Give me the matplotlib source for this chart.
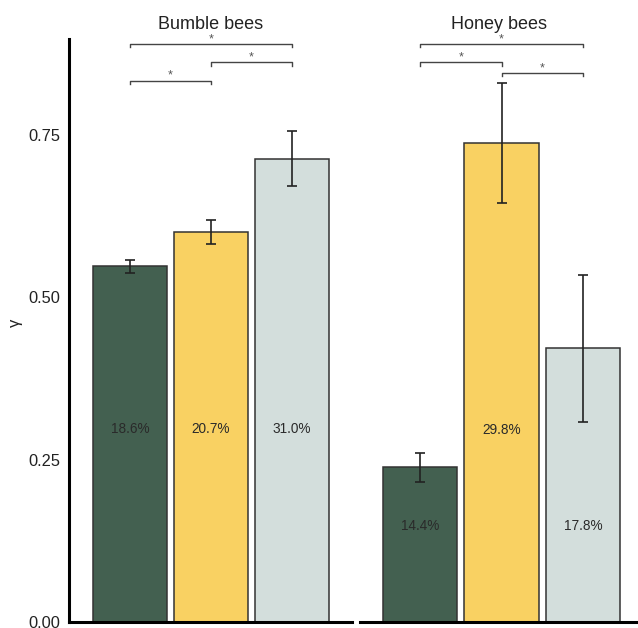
import matplotlib.pyplot as plt

plt.rcParams['font.family'] = ['Liberation Sans', 'DejaVu Sans']

groups = ['Bumble bees', 'Honey bees']
colors = ['#436050', '#F9D162', '#D3DEDC']

bumble_means = [0.547, 0.600, 0.713]
bumble_err = [0.0095, 0.018, 0.042]
bumble_pct = ['18.6%', '20.7%', '31.0%']
bumble_pct_y = [0.297, 0.297, 0.297]

honey_means = [0.238, 0.737, 0.421]
honey_err = [0.022, 0.093, 0.1135]
honey_pct = ['14.4%', '29.8%', '17.8%']
honey_pct_y = [0.148, 0.296, 0.148]

# (left bar, right bar, height) for each significance bracket
bumble_brackets = [(0, 2, 0.889), (1, 2, 0.861), (0, 1, 0.833)]
honey_brackets = [(0, 2, 0.889), (0, 1, 0.861), (1, 2, 0.845)]

ymax = 0.897
fig = plt.figure(figsize=(6.38, 6.28), dpi=100)
ax1 = fig.add_axes([69 / 638, 6 / 628, 283 / 638, 583 / 628])
ax2 = fig.add_axes([360 / 638, 6 / 628, 278 / 638, 583 / 628])


def draw_panel(ax, means, errs, pcts, pct_y, brackets, title, xlim):
    x = range(len(means))
    ax.bar(x, means, width=0.913, color=colors, edgecolor='#333333',
           linewidth=1.1, zorder=2)
    ax.errorbar(x, means, yerr=errs, fmt='none', ecolor='#222222',
                elinewidth=1.2, capsize=3.5, capthick=1.2, zorder=3)
    for xi, txt, yi in zip(x, pcts, pct_y):
        ax.text(xi, yi, txt, ha='center', va='center', fontsize=9.8,
                color='#2a2a2a')
    for a, b, h in brackets:
        ax.plot([a, a, b, b], [h - 0.005, h, h, h - 0.005], color='#444444',
                lw=1.0, clip_on=False, zorder=4)
        ax.text((a + b) / 2, h - 0.002, '*', ha='center', va='bottom',
                fontsize=9, color='#555555', clip_on=False)
    ax.set_xlim(*xlim)
    ax.set_ylim(0, ymax)
    ax.set_title(title, fontsize=13, color='#222222', pad=7)
    for side in ['top', 'right']:
        ax.spines[side].set_visible(False)
    ax.spines['bottom'].set_linewidth(2.2)
    ax.set_xticks([])


draw_panel(ax1, bumble_means, bumble_err, bumble_pct, bumble_pct_y,
           bumble_brackets, groups[0], (-0.753, 2.74))
draw_panel(ax2, honey_means, honey_err, honey_pct, honey_pct_y,
           honey_brackets, groups[1], (-0.742, 2.678))

ax1.spines['left'].set_linewidth(2.2)
ax1.set_yticks([0, 0.25, 0.5, 0.75])
ax1.set_yticklabels(['0.00', '0.25', '0.50', '0.75'])
ax1.tick_params(axis='y', length=0, pad=6, labelsize=11.8, labelcolor='#222222')
ax1.set_ylabel('γ', fontsize=12, color='#222222')
ax1.yaxis.set_label_coords(-0.162, 0.513)

ax2.spines['left'].set_visible(False)
ax2.set_yticks([])

fig.savefig('out.png', dpi=100)
